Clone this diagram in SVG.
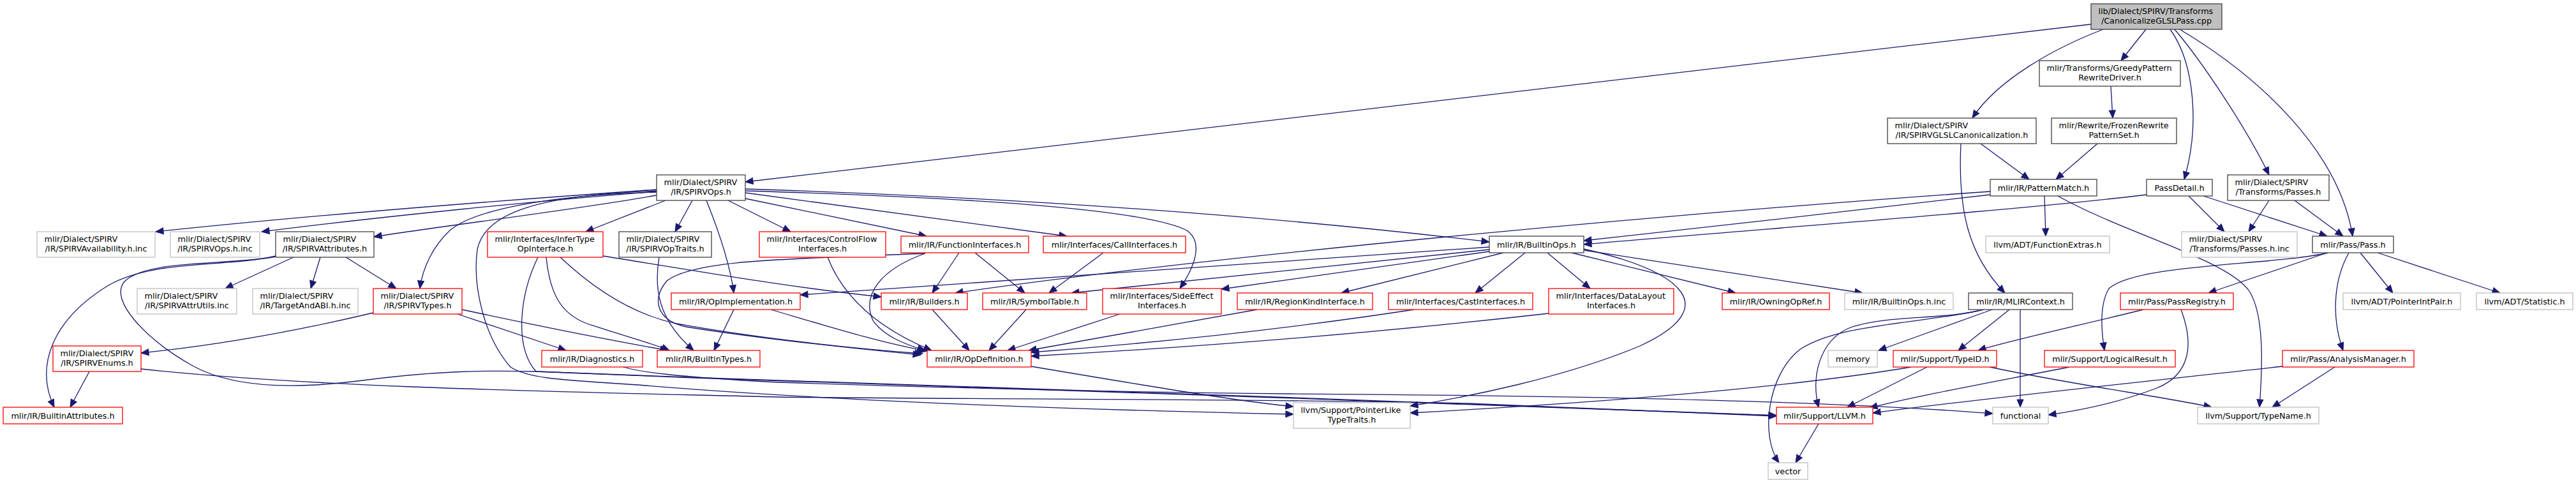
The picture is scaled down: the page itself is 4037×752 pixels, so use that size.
<svg xmlns="http://www.w3.org/2000/svg" width="4037" height="752" viewBox="0 0 4037 752">
<style>
rect{fill:#fff;stroke-width:1.3}
.k{stroke:#404040}
.r{stroke:#ff0000}
.g{stroke:#bfbfbf}
.root{fill:#bfbfbf;stroke:#404040}
text{font-family:"DejaVu Sans","Liberation Sans",sans-serif;font-size:12.8px;fill:#000}
.m{text-anchor:middle}
#edges path{fill:none;stroke:#191970;stroke-width:1.3;marker-end:url(#a)}
</style>
<defs>
<marker id="a" markerUnits="userSpaceOnUse" markerWidth="12" markerHeight="10" refX="12" refY="5" orient="auto" overflow="visible">
<path d="M0,0 L12,5 L0,10 Z" fill="#191970" stroke="#191970" stroke-width="1"/>
</marker>
</defs>
<rect x="0" y="0" width="4037" height="752" style="fill:#fff;stroke:none"/>
<g id="edges">
<path d="M3277,38 L1168,285"/>
<path d="M3296,46 C3220,75 3130,125 3091,185"/>
<path d="M3363,46 L3324,95"/>
<path d="M3401,46 C3440,100 3447,200 3423,281"/>
<path d="M3408,46 C3450,95 3520,200 3556,274"/>
<path d="M3416,46 C3540,120 3665,235 3687,370"/>
<path d="M3308,135 L3311,185"/>
<path d="M3287,225 L3222,281"/>
<path d="M3104,225 L3180,281"/>
<path d="M3073,225 C3068,330 3085,400 3142,459"/>
<path d="M3119,305 C2900,331 2700,353 2482,377"/>
<path d="M3119,300 C2600,336 1900,401 1497,459"/>
<path d="M3204,307 L3206,370"/>
<path d="M3225,307 C3330,366 3490,406 3525,456 C3550,496 3545,582 3541,638"/>
<path d="M3364,305 C3150,331 2700,363 2482,383"/>
<path d="M3430,307 L3486,363"/>
<path d="M3453,307 L3647,370"/>
<path d="M3556,314 L3524,363"/>
<path d="M3596,314 L3672,370"/>
<path d="M3647,396 L3461,459"/>
<path d="M3649,396 C3560,416 3350,413 3305,452 C3290,477 3293,518 3298,549"/>
<path d="M3681,396 C3655,442 3655,502 3672,549"/>
<path d="M3699,396 L3750,459"/>
<path d="M3726,396 L3918,459"/>
<path d="M3659,575 L3561,638"/>
<path d="M3577,574 C3350,599 3100,625 2935,647"/>
<path d="M3359,485 C3250,512 3150,533 3100,549"/>
<path d="M3418,485 C3440,543 3430,588 3380,608 C3320,631 3260,643 3210,650"/>
<path d="M3122,485 L2944,549"/>
<path d="M3149,485 L3069,549"/>
<path d="M3166,485 L3166,638"/>
<path d="M3109,485 C3040,502 2960,493 2900,513 C2850,533 2838,593 2850,638"/>
<path d="M3100,487 C3000,508 2880,508 2820,548 C2770,588 2758,683 2788,725"/>
<path d="M3020,575 L2895,638"/>
<path d="M2995,575 C2800,608 2500,631 2210,647"/>
<path d="M3118,575 C3250,603 3400,623 3466,638"/>
<path d="M3243,575 C3100,603 3000,621 2930,639"/>
<path d="M2850,664 L2814,725"/>
<path d="M2356,396 L2102,459"/>
<path d="M2390,396 L2312,459"/>
<path d="M2425,396 L2492,452"/>
<path d="M2463,396 L2720,459"/>
<path d="M2482,392 L2919,459"/>
<path d="M2482,390 C2640,426 2700,482 2570,542 C2450,592 2300,622 2210,636"/>
<path d="M2334,391 L1679,459"/>
<path d="M2334,394 L1914,453"/>
<path d="M2334,387 L1254,462"/>
<path d="M1029,297 C800,313 500,336 244,363"/>
<path d="M1029,300 C850,314 600,339 410,363"/>
<path d="M1029,306 C900,329 700,353 586,371"/>
<path d="M1029,301 C850,306 740,331 705,361 C678,386 662,421 658,452"/>
<path d="M1043,314 L918,363"/>
<path d="M1085,314 L1058,363"/>
<path d="M1107,314 C1130,371 1145,421 1150,459"/>
<path d="M1141,314 L1239,363"/>
<path d="M1168,311 L1452,370"/>
<path d="M1168,302 L1672,370"/>
<path d="M1168,299 C1500,309 1790,326 1860,361 C1888,381 1870,421 1849,452"/>
<path d="M1168,296 Q1800,316 2334,379"/>
<path d="M1029,299 C850,306 760,331 748,391 C740,450 760,530 800,575 C830,595 900,596 1000,603 C1300,628 1700,642 2027,649"/>
<path d="M460,403 L353,452"/>
<path d="M502,403 L487,452"/>
<path d="M542,403 L621,452"/>
<path d="M432,401 C360,419 240,406 170,447 C80,502 55,575 85,638"/>
<path d="M432,402 C360,416 230,406 195,441 C170,471 230,532 300,572 C370,612 480,607 560,597 C680,581 760,580 840,582 C1200,596 1500,606 2000,622 C2300,632 2550,642 2784,651"/>
<path d="M140,582 L110,638"/>
<path d="M221,578 C500,608 900,614 1220,622 C1600,626 2000,625 2300,632 C2500,640 2650,647 2784,652"/>
<path d="M585,490 C450,522 330,542 221,553"/>
<path d="M724,485 C850,512 950,532 1047,549"/>
<path d="M717,492 L887,549"/>
<path d="M945,401 C1100,426 1250,452 1381,465"/>
<path d="M856,403 C862,462 880,492 920,507 C980,527 1020,537 1049,549"/>
<path d="M878,403 C930,452 990,492 1060,507 C1200,532 1350,547 1446,554"/>
<path d="M843,403 C815,461 805,542 840,582 C1200,597 1500,608 2000,623 C2300,633 2550,643 2784,651"/>
<path d="M1033,403 C1025,450 1030,500 1087,549"/>
<path d="M1450,397 C1250,406 1090,405 1045,440 C1020,470 1030,502 1075,512 C1200,532 1350,547 1443,556"/>
<path d="M1503,396 L1461,459"/>
<path d="M1528,396 L1606,459"/>
<path d="M1450,397 C1380,422 1350,462 1368,502 C1385,527 1420,540 1450,549"/>
<path d="M1297,403 C1320,462 1370,512 1460,549"/>
<path d="M1729,396 L1644,459"/>
<path d="M1461,485 L1519,549"/>
<path d="M1608,485 L1550,549"/>
<path d="M1755,492 L1579,549"/>
<path d="M1970,485 L1612,549"/>
<path d="M2216,485 C2000,518 1800,538 1616,552"/>
<path d="M2427,491 C2100,528 1800,548 1616,558"/>
<path d="M1150,485 L1119,549"/>
<path d="M1208,485 C1300,512 1380,537 1453,550"/>
<path d="M977,575 C1000,582 1050,590 1220,599 C1500,608 1800,615 2020,617 C2500,620 2900,630 3123,648"/>
<path d="M1616,574 C1800,605 1950,630 2027,637"/>
</g>
<g id="n_root"><rect class="root" x="3277" y="6" width="205" height="40"/><text x="3288.5" y="22">lib/Dialect/SPIRV/Transforms</text><text class="m" x="3379.5" y="37">/CanonicalizeGLSLPass.cpp</text></g>
<g id="n_greedy"><rect class="k" x="3196" y="95" width="221" height="40"/><text x="3207.5" y="111">mlir/Transforms/GreedyPattern</text><text class="m" x="3306.5" y="126">RewriteDriver.h</text></g>
<g id="n_frozen"><rect class="k" x="3215" y="185" width="196" height="40"/><text x="3226.5" y="201">mlir/Rewrite/FrozenRewrite</text><text class="m" x="3313" y="216">PatternSet.h</text></g>
<g id="n_glsl"><rect class="k" x="2958" y="185" width="233" height="40"/><text x="2969.5" y="201">mlir/Dialect/SPIRV</text><text class="m" x="3074.5" y="216">/IR/SPIRVGLSLCanonicalization.h</text></g>
<g id="n_spirvops"><rect class="k" x="1029" y="274" width="139" height="40"/><text x="1040.5" y="290">mlir/Dialect/SPIRV</text><text class="m" x="1098.5" y="305">/IR/SPIRVOps.h</text></g>
<g id="n_patternmatch"><rect class="k" x="3119" y="281" width="167" height="26"/><text class="m" x="3202.5" y="298.5">mlir/IR/PatternMatch.h</text></g>
<g id="n_passdetail"><rect class="k" x="3364" y="281" width="103" height="26"/><text class="m" x="3415.5" y="298.5">PassDetail.h</text></g>
<g id="n_passes"><rect class="k" x="3491" y="274" width="159" height="40"/><text x="3502.5" y="290">mlir/Dialect/SPIRV</text><text class="m" x="3570.5" y="305">/Transforms/Passes.h</text></g>
<g id="n_avail"><rect class="g" x="58" y="363" width="185" height="40"/><text x="69.5" y="379">mlir/Dialect/SPIRV</text><text class="m" x="150.5" y="394">/IR/SPIRVAvailability.h.inc</text></g>
<g id="n_opsinc"><rect class="g" x="267" y="363" width="140" height="40"/><text x="278.5" y="379">mlir/Dialect/SPIRV</text><text class="m" x="337" y="394">/IR/SPIRVOps.h.inc</text></g>
<g id="n_attrs"><rect class="k" x="432" y="363" width="154" height="40"/><text x="443.5" y="379">mlir/Dialect/SPIRV</text><text class="m" x="509" y="394">/IR/SPIRVAttributes.h</text></g>
<g id="n_infer"><rect class="r" x="764" y="363" width="181" height="40"/><text x="775.5" y="379">mlir/Interfaces/InferType</text><text class="m" x="854.5" y="394">OpInterface.h</text></g>
<g id="n_optraits"><rect class="k" x="970" y="363" width="145" height="40"/><text x="981.5" y="379">mlir/Dialect/SPIRV</text><text class="m" x="1042.5" y="394">/IR/SPIRVOpTraits.h</text></g>
<g id="n_controlflow"><rect class="r" x="1190" y="363" width="198" height="40"/><text x="1201.5" y="379">mlir/Interfaces/ControlFlow</text><text class="m" x="1289" y="394">Interfaces.h</text></g>
<g id="n_funcif"><rect class="r" x="1412" y="370" width="200" height="26"/><text class="m" x="1512" y="387.5">mlir/IR/FunctionInterfaces.h</text></g>
<g id="n_callif"><rect class="r" x="1635" y="370" width="223" height="26"/><text class="m" x="1746.5" y="387.5">mlir/Interfaces/CallInterfaces.h</text></g>
<g id="n_builtinops"><rect class="k" x="2334" y="370" width="148" height="26"/><text class="m" x="2408" y="387.5">mlir/IR/BuiltinOps.h</text></g>
<g id="n_funcextras"><rect class="g" x="3112" y="370" width="194" height="26"/><text class="m" x="3209" y="387.5">llvm/ADT/FunctionExtras.h</text></g>
<g id="n_passesinc"><rect class="g" x="3419" y="363" width="181" height="40"/><text x="3430.5" y="379">mlir/Dialect/SPIRV</text><text class="m" x="3509.5" y="394">/Transforms/Passes.h.inc</text></g>
<g id="n_pass"><rect class="k" x="3624" y="370" width="127" height="26"/><text class="m" x="3687.5" y="387.5">mlir/Pass/Pass.h</text></g>
<g id="n_attrutils"><rect class="g" x="215" y="452" width="156" height="40"/><text x="226.5" y="468">mlir/Dialect/SPIRV</text><text class="m" x="293" y="483">/IR/SPIRVAttrUtils.inc</text></g>
<g id="n_targetabi"><rect class="g" x="396" y="452" width="165" height="40"/><text x="407.5" y="468">mlir/Dialect/SPIRV</text><text class="m" x="478.5" y="483">/IR/TargetAndABI.h.inc</text></g>
<g id="n_spirvtypes"><rect class="r" x="585" y="452" width="139" height="40"/><text x="596.5" y="468">mlir/Dialect/SPIRV</text><text class="m" x="654.5" y="483">/IR/SPIRVTypes.h</text></g>
<g id="n_opimpl"><rect class="r" x="1052" y="459" width="202" height="26"/><text class="m" x="1153" y="476.5">mlir/IR/OpImplementation.h</text></g>
<g id="n_builders"><rect class="r" x="1381" y="459" width="135" height="26"/><text class="m" x="1448.5" y="476.5">mlir/IR/Builders.h</text></g>
<g id="n_symtab"><rect class="r" x="1540" y="459" width="163" height="26"/><text class="m" x="1621.5" y="476.5">mlir/IR/SymbolTable.h</text></g>
<g id="n_sideeffect"><rect class="r" x="1728" y="452" width="186" height="40"/><text x="1739.5" y="468">mlir/Interfaces/SideEffect</text><text class="m" x="1821" y="483">Interfaces.h</text></g>
<g id="n_regionkind"><rect class="r" x="1939" y="459" width="212" height="26"/><text class="m" x="2045" y="476.5">mlir/IR/RegionKindInterface.h</text></g>
<g id="n_cast"><rect class="r" x="2176" y="459" width="226" height="26"/><text class="m" x="2289" y="476.5">mlir/Interfaces/CastInterfaces.h</text></g>
<g id="n_datalayout"><rect class="r" x="2427" y="452" width="196" height="40"/><text x="2438.5" y="468">mlir/Interfaces/DataLayout</text><text class="m" x="2525" y="483">Interfaces.h</text></g>
<g id="n_owning"><rect class="r" x="2699" y="459" width="168" height="26"/><text class="m" x="2783" y="476.5">mlir/IR/OwningOpRef.h</text></g>
<g id="n_builtinopsinc"><rect class="g" x="2891" y="459" width="170" height="26"/><text class="m" x="2976" y="476.5">mlir/IR/BuiltinOps.h.inc</text></g>
<g id="n_mlircontext"><rect class="k" x="3085" y="459" width="163" height="26"/><text class="m" x="3166.5" y="476.5">mlir/IR/MLIRContext.h</text></g>
<g id="n_passregistry"><rect class="r" x="3323" y="459" width="177" height="26"/><text class="m" x="3411.5" y="476.5">mlir/Pass/PassRegistry.h</text></g>
<g id="n_pointerintpair"><rect class="g" x="3672" y="459" width="184" height="26"/><text class="m" x="3764" y="476.5">llvm/ADT/PointerIntPair.h</text></g>
<g id="n_statistic"><rect class="g" x="3881" y="459" width="151" height="26"/><text class="m" x="3956.5" y="476.5">llvm/ADT/Statistic.h</text></g>
<g id="n_enums"><rect class="r" x="83" y="542" width="138" height="40"/><text x="94.5" y="558">mlir/Dialect/SPIRV</text><text class="m" x="152" y="573">/IR/SPIRVEnums.h</text></g>
<g id="n_diagnostics"><rect class="r" x="849" y="549" width="158" height="26"/><text class="m" x="928" y="566.5">mlir/IR/Diagnostics.h</text></g>
<g id="n_builtintypes"><rect class="r" x="1030" y="549" width="161" height="26"/><text class="m" x="1110.5" y="566.5">mlir/IR/BuiltinTypes.h</text></g>
<g id="n_opdef"><rect class="r" x="1453" y="549" width="163" height="26"/><text class="m" x="1534.5" y="566.5">mlir/IR/OpDefinition.h</text></g>
<g id="n_memory"><rect class="g" x="2865" y="549" width="77" height="26"/><text class="m" x="2903.5" y="566.5">memory</text></g>
<g id="n_typeid"><rect class="r" x="2967" y="549" width="162" height="26"/><text class="m" x="3048" y="566.5">mlir/Support/TypeID.h</text></g>
<g id="n_logicalresult"><rect class="r" x="3204" y="549" width="205" height="26"/><text class="m" x="3306.5" y="566.5">mlir/Support/LogicalResult.h</text></g>
<g id="n_analysis"><rect class="r" x="3577" y="549" width="206" height="26"/><text class="m" x="3680" y="566.5">mlir/Pass/AnalysisManager.h</text></g>
<g id="n_builtinattrs"><rect class="r" x="5" y="638" width="187" height="26"/><text class="m" x="98.5" y="655.5">mlir/IR/BuiltinAttributes.h</text></g>
<g id="n_pointerlike"><rect class="g" x="2027" y="631" width="183" height="40"/><text x="2038.5" y="647">llvm/Support/PointerLike</text><text class="m" x="2118.5" y="662">TypeTraits.h</text></g>
<g id="n_llvm"><rect class="r" x="2784" y="638" width="151" height="26"/><text class="m" x="2859.5" y="655.5">mlir/Support/LLVM.h</text></g>
<g id="n_functional"><rect class="g" x="3123" y="638" width="87" height="26"/><text class="m" x="3166.5" y="655.5">functional</text></g>
<g id="n_typename"><rect class="g" x="3444" y="638" width="190" height="26"/><text class="m" x="3539" y="655.5">llvm/Support/TypeName.h</text></g>
<g id="n_vector"><rect class="g" x="2771" y="725" width="62" height="26"/><text class="m" x="2802" y="742.5">vector</text></g>
</svg>
